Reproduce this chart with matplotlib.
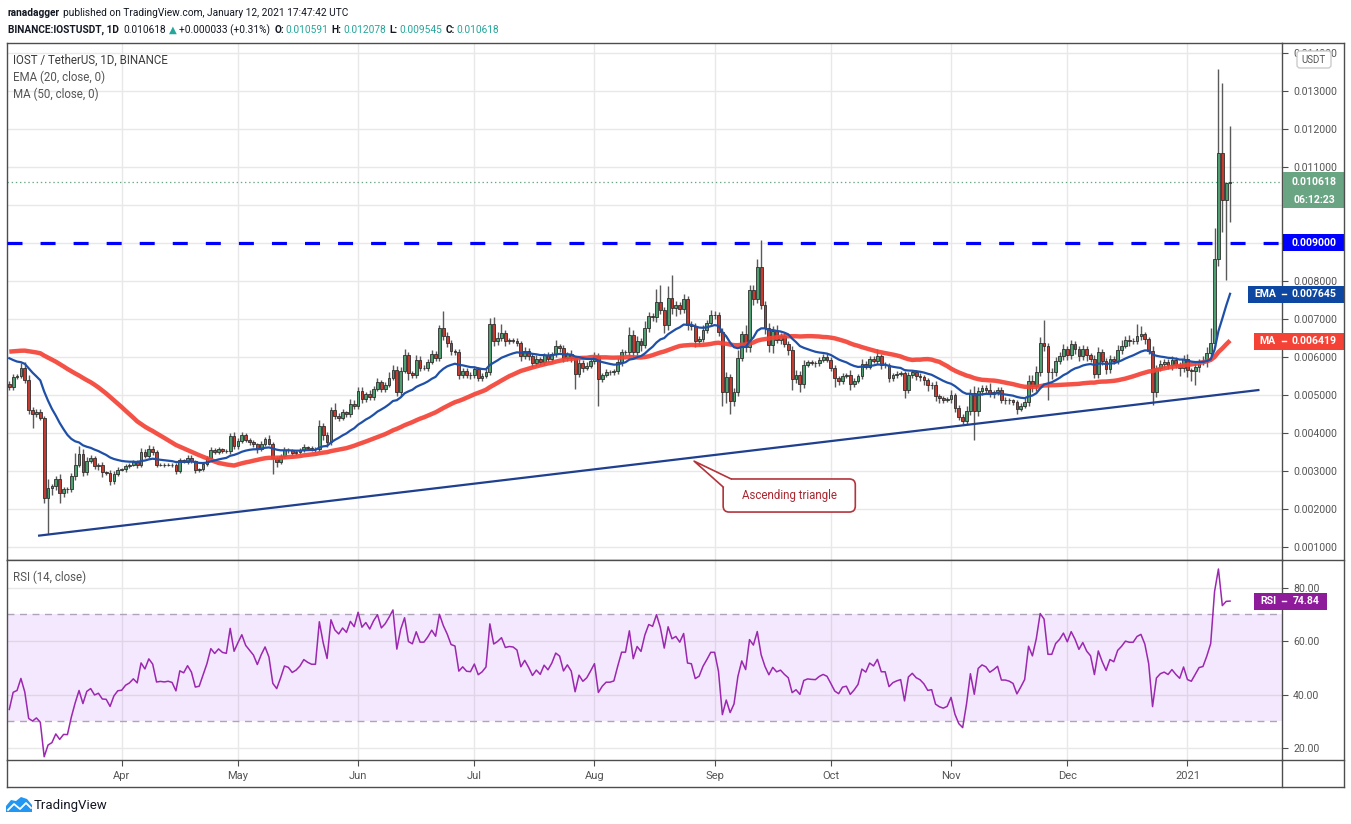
import numpy as np
import pandas as pd
import matplotlib
matplotlib.use('Agg')
import matplotlib.pyplot as plt
from matplotlib.patches import Rectangle, FancyBboxPatch, Polygon

plt.rcParams['font.family'] = ['Roboto', 'DejaVu Sans']
plt.rcParams['lines.scale_dashes'] = False

W, H = 1351, 824

# ---- data (prices in 1e-6 USDT) ----
start_date = '2020-03-03'
first_open = 5300
closes = [
    5200, 5470, 5500, 5700, 5400, 4600, 4500, 4550, 4400, 2300, 2550, 2600, 2780, 2430, 2530, 2520, 2860, 3170, 3460, 2970,
    3270, 3340, 3120, 3160, 2970, 2960, 2730, 2930, 3030, 3040, 3130, 3170, 3240, 3160, 3510, 3400, 3590, 3500, 3160, 3170,
    3160, 3170, 3150, 3010, 3280, 3250, 3350, 3260, 3030, 3040, 3180, 3330, 3560, 3500, 3570, 3530, 3520, 3920, 3650, 3800,
    3950, 3820, 3760, 3700, 3580, 3720, 3840, 3720, 3340, 3250, 3390, 3560, 3540, 3470, 3500, 3550, 3630, 3600, 3580, 3580,
    4190, 3960, 3760, 4610, 4460, 4400, 4550, 4490, 4770, 4700, 5110, 4900, 5030, 4940, 5160, 5340, 5160, 5270, 5450, 5670,
    5070, 5640, 6060, 5580, 5530, 5930, 5710, 5710, 5870, 6080, 5970, 6760, 6540, 6370, 6150, 6120, 5530, 5640, 5530, 5520,
    5690, 5450, 5510, 5610, 6870, 6410, 6500, 6630, 6410, 6440, 6430, 6370, 6020, 6170, 6020, 5840, 5950, 5860, 6040, 5950,
    6080, 6280, 6230, 5970, 6080, 5970, 5550, 5840, 5710, 5770, 5890, 6020, 5420, 5530, 5600, 5600, 5620, 5860, 6120, 6120,
    6590, 6120, 6410, 6320, 6750, 7080, 7050, 7450, 7230, 6840, 7550, 7290, 7370, 7250, 7530, 6840, 6820, 6410, 6470, 6720,
    6900, 7100, 7100, 6660, 5080, 5470, 4840, 5080, 5970, 6600, 6250, 7750, 7530, 8370, 7360, 6760, 6310, 6690, 6460, 6540,
    6340, 6180, 5420, 5530, 5290, 5800, 5860, 5840, 5830, 5930, 5990, 5930, 5700, 5450, 5360, 5510, 5530, 5290, 5380, 5490,
    5820, 5750, 5950, 5890, 6030, 5780, 5780, 5460, 5530, 5560, 5580, 5120, 5530, 5600, 5510, 5470, 5390, 5260, 5270, 4970,
    4910, 4880, 4900, 5000, 4660, 4420, 4310, 4590, 5050, 4590, 5100, 5180, 5140, 5030, 5080, 5140, 4880, 4880, 4860, 4820,
    4630, 4720, 4820, 5380, 5230, 5600, 6370, 6280, 5600, 5600, 5900, 6020, 6210, 6050, 6350, 6210, 6020, 6200, 6040, 5950,
    5560, 6130, 5890, 5680, 5950, 5900, 6190, 6300, 6440, 6420, 6420, 6560, 6610, 6470, 6150, 5070, 5710, 5820, 5860, 5800,
    5910, 5800, 5710, 5940, 5660, 5620, 5750, 5880, 5900, 6100, 6370, 8580, 11360, 10130, 10591, 10618,
]
upper_wick = [
    60, 90, 60, 150, 170, 120, 80, 90, 70, 50, 250, 60, 80, 140, 50, 40, 80, 300, 190, 120,
    90, 70, 60, 50, 80, 40, 60, 60, 70, 40, 50, 40, 60, 50, 90, 80, 100, 60, 60, 40,
    40, 30, 40, 50, 70, 40, 60, 60, 40, 40, 50, 60, 70, 40, 60, 40, 50, 90, 100, 60,
    80, 60, 40, 50, 40, 60, 60, 110, 50, 60, 50, 60, 50, 50, 40, 50, 90, 40, 50, 60,
    160, 80, 60, 80, 170, 60, 90, 40, 130, 90, 110, 100, 60, 100, 90, 110, 60, 80, 160, 130,
    90, 90, 140, 80, 50, 120, 100, 70, 80, 100, 70, 90, 460, 120, 80, 70, 90, 60, 70, 80,
    80, 60, 60, 70, 150, 180, 150, 250, 80, 70, 60, 70, 50, 90, 60, 70, 110, 60, 70, 90,
    60, 160, 70, 80, 60, 100, 60, 100, 90, 100, 70, 120, 90, 60, 80, 70, 70, 110, 100, 70,
    200, 110, 150, 90, 200, 110, 80, 340, 450, 80, 320, 620, 100, 80, 140, 80, 100, 80, 70, 130,
    70, 140, 100, 90, 110, 130, 90, 110, 210, 90, 230, 150, 150, 220, 720, 120, 140, 130, 150, 100,
    90, 70, 110, 130, 90, 110, 70, 50, 60, 80, 90, 80, 70, 90, 60, 70, 60, 120, 60, 60,
    120, 70, 80, 70, 190, 60, 90, 70, 50, 60, 50, 60, 80, 60, 70, 60, 50, 60, 70, 90,
    50, 60, 60, 120, 60, 80, 70, 120, 110, 200, 100, 80, 90, 180, 60, 80, 70, 60, 50, 40,
    50, 60, 90, 150, 140, 160, 150, 610, 100, 120, 90, 100, 130, 90, 110, 80, 70, 110, 90, 70,
    90, 120, 90, 80, 100, 80, 120, 150, 100, 150, 80, 300, 200, 60, 60, 130, 70, 100, 90, 80,
    110, 90, 80, 120, 130, 60, 90, 80, 120, 150, 380, 820, 2210, 1840, 20, 1460,
]
lower_wick = [
    70, 60, 50, 60, 80, 100, 370, 90, 60, 150, 950, 180, 100, 280, 120, 100, 80, 90, 60, 110,
    70, 60, 80, 100, 120, 70, 90, 60, 50, 40, 60, 40, 50, 80, 50, 70, 60, 90, 60, 40,
    50, 30, 50, 80, 60, 40, 60, 50, 80, 50, 40, 50, 60, 40, 50, 60, 40, 60, 80, 60,
    50, 60, 80, 70, 110, 60, 50, 40, 420, 150, 60, 50, 60, 50, 40, 60, 50, 60, 50, 80,
    60, 140, 130, 70, 80, 90, 60, 70, 80, 70, 80, 100, 80, 70, 60, 50, 80, 70, 60, 50,
    100, 90, 70, 180, 80, 70, 90, 60, 70, 60, 80, 80, 90, 100, 90, 80, 100, 70, 80, 90,
    60, 90, 70, 60, 80, 130, 90, 70, 110, 80, 70, 90, 120, 70, 110, 90, 70, 80, 60, 90,
    70, 80, 100, 110, 70, 90, 390, 80, 100, 60, 70, 80, 700, 90, 60, 70, 80, 60, 90, 80,
    100, 120, 90, 150, 80, 100, 110, 130, 100, 200, 130, 150, 220, 110, 90, 130, 120, 160, 90, 80,
    90, 60, 100, 120, 360, 300, 340, 120, 100, 70, 130, 110, 170, 120, 90, 160, 190, 200, 80, 110,
    90, 120, 280, 100, 220, 110, 70, 60, 80, 60, 50, 70, 80, 240, 100, 80, 60, 170, 90, 70,
    80, 70, 60, 60, 70, 100, 80, 120, 90, 70, 60, 200, 80, 90, 110, 100, 120, 160, 90, 130,
    110, 90, 70, 120, 100, 90, 70, 80, 110, 780, 150, 110, 90, 80, 110, 90, 100, 120, 90, 80,
    130, 60, 70, 100, 150, 120, 110, 130, 720, 170, 100, 90, 110, 140, 100, 120, 130, 90, 140, 80,
    110, 120, 90, 130, 110, 90, 80, 100, 70, 120, 80, 90, 100, 120, 80, 330, 110, 90, 100, 120,
    140, 90, 200, 100, 180, 250, 350, 140, 90, 150, 80, 120, 180, 850, 2110, 1046,
]
# closes Jan 13 - Mar 2 2020, only used to warm up the indicators
warmup_closes = [
    4850, 5100, 5200, 5150, 5300, 5400, 5350, 5300, 5450, 5400, 5200, 5300, 5400, 5500, 5700, 5800, 5900, 6100, 6200,
    6100, 6200, 6100, 6400, 6700, 7000, 6900, 7200, 7500, 7300, 7600, 7900, 7700, 7900, 8000, 7000, 6900, 6600, 6200,
    6300, 6100, 6200, 6300, 6300, 6000, 5500, 5600, 5400, 5500, 5400, 5300,
]

resistance = 0.009
trend_days = [7.7, 322.3]
trend_prices = [0.00130, 0.00513]
last_price = 0.010618
ema_last, ma_last, rsi_last = 0.007645, 0.006419, 74.84
callout_tip = (176.7, 0.00326)
callout_box = (184.2, 218.3, 0.00192, 0.00279)   # day left/right, price bottom/top

# ---- derived ----
c = np.array(closes) * 1e-6
o = np.r_[first_open, closes[:-1]] * 1e-6
hi = np.maximum(o, c) + np.array(upper_wick) * 1e-6
lo = np.minimum(o, c) - np.array(lower_wick) * 1e-6
n = len(c)
x = np.arange(n)
dates = pd.date_range(start_date, periods=n, freq='D')

full = pd.Series(np.r_[warmup_closes, closes] * 1e-6)
ema = full.ewm(span=20, adjust=False).mean().values[-n:]
ma = full.rolling(50).mean().values[-n:]
d = full.diff()
up = d.clip(lower=0).ewm(alpha=1 / 14, adjust=False).mean()
dn = (-d.clip(upper=0)).ewm(alpha=1 / 14, adjust=False).mean()
rsi = (100 - 100 / (1 + up / dn)).values[-n:]

month_idx = [i for i, dt in enumerate(dates) if dt.day == 1]
month_lbl = [str(dates[i].year) if dates[i].month == 1 else dates[i].strftime('%b') for i in month_idx]

# ---- figure ----
fig = plt.figure(figsize=(W / 100, H / 100), dpi=100)
L, R = 6.5, 1282
ax = fig.add_axes([L / W, 1 - 560 / H, (R - L) / W, 517 / H])
rax = fig.add_axes([L / W, 1 - 760 / H, (R - L) / W, 200 / H])
xlim = (-0.72, 328.4)
frame_col = '#4d4d4d'
grid_col = '#e8e8e8'
lbl_col = '#555555'

ax.set_xlim(*xlim)
ax.set_ylim(0.000658, 0.014263)
price_ticks = np.arange(0.001, 0.01401, 0.001)
ax.set_yticks(price_ticks)
ax.yaxis.tick_right()
# the 0.010000 label sits under the countdown box, as in the original
ax.set_yticklabels(['' if abs(v - 0.010) < 1e-9 else f'{v:.6f}' for v in price_ticks])
ax.set_xticks(month_idx)
ax.tick_params(axis='x', length=0, labelbottom=False)
ax.tick_params(axis='y', length=4, color=frame_col, labelcolor=lbl_col, labelsize=7.6, pad=4)
ax.grid(color=grid_col, lw=1)
ax.set_axisbelow(True)
for s in ax.spines.values():
    s.set_color(frame_col)
    s.set_linewidth(1)

# candles
green, red = '#4e9f6f', '#c63b30'
cols = np.where(c >= o, green, red)
ax.vlines(x, lo, hi, color='#5a5a5a', lw=1, zorder=3)
ax.bar(x, np.abs(c - o), bottom=np.minimum(o, c), width=0.72, color=cols,
       edgecolor='#2e2e2e', linewidth=0.6, zorder=4)

ax.plot(x, ma, color='#f44336', lw=3.2, alpha=0.92, zorder=5, solid_capstyle='butt')
ax.plot(x, ema, color='#1f50a8', lw=1.6, zorder=6)
ax.axhline(resistance, color='#0000ff', lw=2.3, dashes=(10.8, 13), zorder=7)
ax.axhline(last_price, color='#6aa583', lw=0.9, ls=(0, (1, 2)), zorder=2)
ax.plot(trend_days, trend_prices, color='#1f3f8f', lw=1.6, zorder=7)

# RSI panel
rax.set_xlim(*xlim)
rax.set_ylim(15.6, 90.3)
rax.set_yticks([20, 40, 60, 80])
rax.yaxis.tick_right()
rax.yaxis.set_major_formatter(plt.FuncFormatter(lambda v, p: f'{v:.2f}'))
rax.set_xticks(month_idx)
rax.set_xticklabels(month_lbl)
rax.tick_params(axis='x', length=4, color=frame_col, labelcolor=lbl_col, labelsize=8, pad=4)
rax.tick_params(axis='y', length=4, color=frame_col, labelcolor=lbl_col, labelsize=7.6, pad=4)
rax.grid(color=grid_col, lw=1)
rax.set_axisbelow(True)
for s in rax.spines.values():
    s.set_color(frame_col)
    s.set_linewidth(1)
rax.axhspan(30, 70, color='#9933ee', alpha=0.11, lw=0, zorder=0.6)
for lvl in (30, 70):
    rax.axhline(lvl, color='#b0a5b8', lw=1, dashes=(5, 4), zorder=1)
rax.plot(x, rsi, color='#9c27b0', lw=1.1, zorder=3)

# ---- overlay in pixel units ----
ov = fig.add_axes([0, 0, 1, 1])
ov.set_xlim(0, W)
ov.set_ylim(H, 0)
ov.axis('off')
ov.set_zorder(10)


def to_px(axis, xv, yv):
    dx, dy = axis.transData.transform((xv, yv))
    return dx, H - dy


# outer frame pieces
for (x0, y0, x1, y1) in [(L, 760, L, 787), (L, 787, 1344, 787), (1344, 43, 1344, 787),
                         (R, 43, 1344, 43), (R, 560, 1344, 560), (R, 760, 1344, 760), (R, 760, R, 787)]:
    ov.plot([x0, x1], [y0, y1], color=frame_col, lw=1)


def axis_box(y, x0, x1, h, color, text, tag=None):
    ov.add_patch(Rectangle((x0, y - h / 2), x1 - x0, h, color=color, lw=0))
    ov.text((R + 1344) / 2 + 1, y, text, color='white', fontsize=7.6, fontweight='bold', ha='center', va='center')
    if tag:
        ov.text((x0 + R) / 2, y, tag, color='white', fontsize=7.6, fontweight='bold', ha='center', va='center')
        ov.plot([R, R + 4], [y, y], color='white', lw=1)


_, y_last = to_px(ax, 0, last_price)
axis_box(y_last, R + 1, 1344, 20, '#6aa583', f'{last_price:.6f}')
axis_box(y_last + 18, R + 1, 1344, 17, '#6aa583', '06:12:23')
_, y_res = to_px(ax, 0, resistance)
axis_box(y_res, R + 1, 1344, 17, '#0000ff', f'{resistance:.6f}')
_, y_ema = to_px(ax, 0, ema_last)
axis_box(y_ema, 1248, 1344, 17, '#0d47a1', f'{ema_last:.6f}', 'EMA')
_, y_ma = to_px(ax, 0, ma_last)
axis_box(y_ma, 1254, 1344, 17, '#f44336', f'{ma_last:.6f}', 'MA')
_, y_rsi = to_px(rax, 0, rsi_last)
ov.add_patch(Rectangle((1254, y_rsi - 8.5), 73, 17, color='#8e1b9a', lw=0))
ov.text(1268, y_rsi, 'RSI', color='white', fontsize=7.6, fontweight='bold', ha='center', va='center')
ov.text(1306, y_rsi, f'{rsi_last:.2f}', color='white', fontsize=7.6, fontweight='bold', ha='center', va='center')
ov.plot([R, R + 4], [y_rsi, y_rsi], color='white', lw=1)

ov.add_patch(FancyBboxPatch((1297, 51), 34, 17, boxstyle='round,pad=0,rounding_size=3',
                            fc='white', ec='#cccccc', lw=1))
ov.text(1314, 59.5, 'USDT', color=lbl_col, fontsize=7, ha='center', va='center')

# callout
tip = to_px(ax, *callout_tip)
bx0, by0 = to_px(ax, callout_box[0], callout_box[3])
bx1, by1 = to_px(ax, callout_box[1], callout_box[2])
cred = '#b3343c'
ov.add_patch(FancyBboxPatch((bx0, by0), bx1 - bx0, by1 - by0, boxstyle='round,pad=0,rounding_size=6',
                            fc='white', ec=cred, lw=1.2))
b1 = (bx0 + 8, by0)
b2 = (bx0, by0 + 8)
ov.add_patch(Polygon([tip, b1, (bx0 + 8, by0 + 8), b2], closed=True, fc='white', ec='none'))
ov.plot([b1[0], tip[0], b2[0]], [b1[1], tip[1], b2[1]], color=cred, lw=1.2)
ov.text((bx0 + bx1) / 2, (by0 + by1) / 2, 'Ascending triangle', color='#a82832', fontsize=8.3,
        ha='center', va='center')

# legends
ov.text(13, 60, 'IOST / TetherUS, 1D, BINANCE', color='#3c3c3c', fontsize=8.3, va='center')
ov.text(13, 77, 'EMA (20, close, 0)', color=lbl_col, fontsize=8.3, va='center')
ov.text(13, 94, 'MA (50, close, 0)', color=lbl_col, fontsize=8.3, va='center')
ov.text(13, 577, 'RSI (14, close)', color=lbl_col, fontsize=8.3, va='center')

# header
renderer = fig.canvas.get_renderer()


def draw_runs(runs, xp, yp, size):
    for text, color, bold, gap in runs:
        t = ov.text(xp, yp, text, color=color, fontsize=size, fontweight='bold' if bold else 'normal',
                    ha='left', va='center')
        xp += t.get_window_extent(renderer=renderer).width + gap


dark, teal = '#131722', '#26a69a'
draw_runs([('ranadagger', dark, True, 3),
           ('published on TradingView.com, January 12, 2021 17:47:42 UTC', dark, False, 0)], 8, 13, 7.3)
draw_runs([('BINANCE:IOSTUSDT, 1D', dark, True, 4), ('0.010618', dark, False, 3), ('▲', teal, False, 3),
           ('+0.000033 (+0.31%)', dark, False, 4),
           ('O:', dark, True, 1), ('0.010591', teal, False, 4),
           ('H:', dark, True, 1), ('0.012078', teal, False, 4),
           ('L:', dark, True, 1), ('0.009545', teal, False, 4),
           ('C:', dark, True, 1), ('0.010618', teal, False, 0)], 8, 30, 7.3)

# footer logo
ov.add_patch(Polygon([(6, 812), (6, 806), (11, 800), (16, 801), (21, 797), (27, 799), (32, 805), (32, 812)],
                     closed=True, fc='#2196f3', ec='none'))
ov.plot([8, 14, 20, 26, 31], [810, 804, 809, 803, 808], color='white', lw=1.3)
ov.text(34, 805, 'TradingView', color=dark, fontsize=9.5, va='center')

fig.savefig('out.png', dpi=100)
